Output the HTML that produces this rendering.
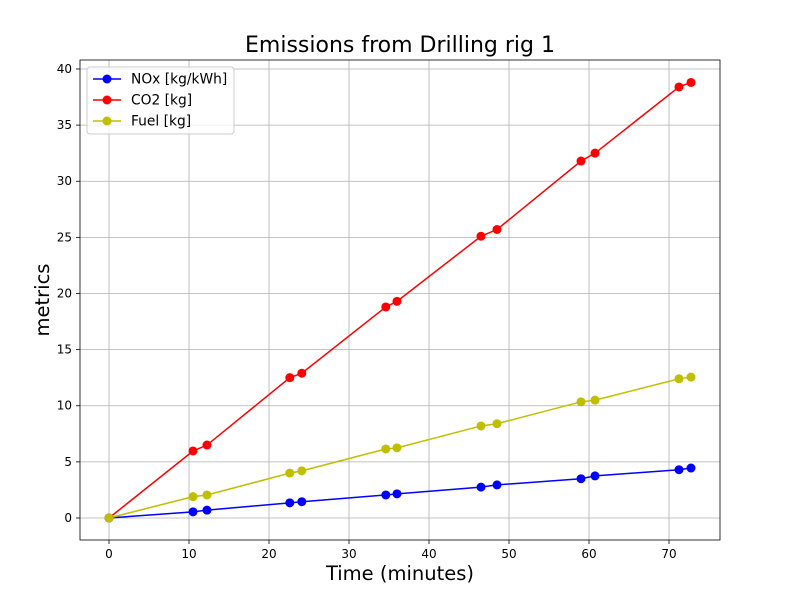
<!DOCTYPE html>
<html><head><meta charset="utf-8"><style>
body{margin:0;background:#fff;font-family:"DejaVu Sans","Liberation Sans",sans-serif}
svg text{font-family:"DejaVu Sans","Liberation Sans",sans-serif}
</style></head><body>
<svg id="chart" width="800" height="600" xmlns="http://www.w3.org/2000/svg"></svg>
<script>
const times=[0,10.5,12.25,22.6,24.1,34.6,36,46.5,48.5,59,60.75,71.25,72.75];
const nox=[0,0.55,0.7,1.35,1.45,2.05,2.15,2.75,2.95,3.5,3.75,4.3,4.45];
const co2=[0,5.97,6.5,12.5,12.9,18.8,19.3,25.1,25.7,31.8,32.5,38.4,38.8];
const fuel=[0,1.9,2.05,4.0,4.2,6.15,6.25,8.2,8.4,10.35,10.5,12.4,12.55];
const xTicks=[0,10,20,30,40,50,60,70];
const yTicks=[0,5,10,15,20,25,30,35,40];
const seriesNames=["NOx [kg/kWh]","CO2 [kg]","Fuel [kg]"];
const svg=document.getElementById('chart');
const NS='http://www.w3.org/2000/svg';
const L=80,R=720,T=60,B=540;
const xMin=-3.625,xMax=76.375,yMin=-1.96,yMax=40.8;
const X=v=>L+(v-xMin)/(xMax-xMin)*(R-L);
const Y=v=>B-(v-yMin)/(yMax-yMin)*(B-T);
function el(t,a,txt){const e=document.createElementNS(NS,t);for(const k in a)e.setAttribute(k,a[k]);if(txt!=null)e.textContent=txt;svg.appendChild(e);return e;}
xTicks.forEach(t=>{
 const g=el('line',{x1:X(t),x2:X(t),y1:T,y2:B,stroke:'#b0b0b0','stroke-width':0.8});
 
 
 el('line',{x1:X(t),x2:X(t),y1:B,y2:B+4,stroke:'#000','stroke-width':0.8});
 const l=el('text',{x:X(t),y:B+18,'text-anchor':'middle','font-size':12},t);
 
 
});
yTicks.forEach(t=>{
 const g=el('line',{x1:L,x2:R,y1:Y(t),y2:Y(t),stroke:'#b0b0b0','stroke-width':0.8});
 
 
 el('line',{x1:L-4,x2:L,y1:Y(t),y2:Y(t),stroke:'#000','stroke-width':0.8});
 const l=el('text',{x:L-8,y:Y(t)+4,'text-anchor':'end','font-size':12},t);
 
 
});
const data=[nox,co2,fuel],colors=['#0000ff','#ff0000','#bfbf00'],keys=['nox','co2','fuel'];
data.forEach((s,i)=>{
 const p=el('polyline',{points:times.map((t,j)=>X(t)+','+Y(s[j])).join(' '),fill:'none',stroke:colors[i],'stroke-width':1.5});
 
 
 times.forEach((t,j)=>{
  const c=el('circle',{cx:X(t),cy:Y(s[j]),r:4.5,fill:colors[i]});
  
  
 });
});
const fr=el('rect',{x:L,y:T,width:R-L,height:B-T,fill:'none',stroke:'#000','stroke-width':0.8});


const lg=el('rect',{x:87,y:67,width:147,height:67,fill:'#fff','fill-opacity':0.8,stroke:'#ccc',rx:3});


seriesNames.forEach((n,i)=>{
 const y=79+i*21;
 el('line',{x1:93,x2:121,y1:y,y2:y,stroke:colors[i],'stroke-width':1.5});
 el('circle',{cx:107,cy:y,r:4.5,fill:colors[i]});
 const t=el('text',{x:131,y:y+4.5,'font-size':13.8},n);
 
 
});
const ti=el('text',{x:400,y:52,'text-anchor':'middle','font-size':22},'Emissions from Drilling rig 1');


const xt=el('text',{x:400,y:580,'text-anchor':'middle','font-size':19.5},'Time (minutes)');


const yt=el('text',{x:0,y:0,'text-anchor':'middle','font-size':19.5,transform:'translate(49,300) rotate(-90)'},'metrics');


</script>
</body></html>
